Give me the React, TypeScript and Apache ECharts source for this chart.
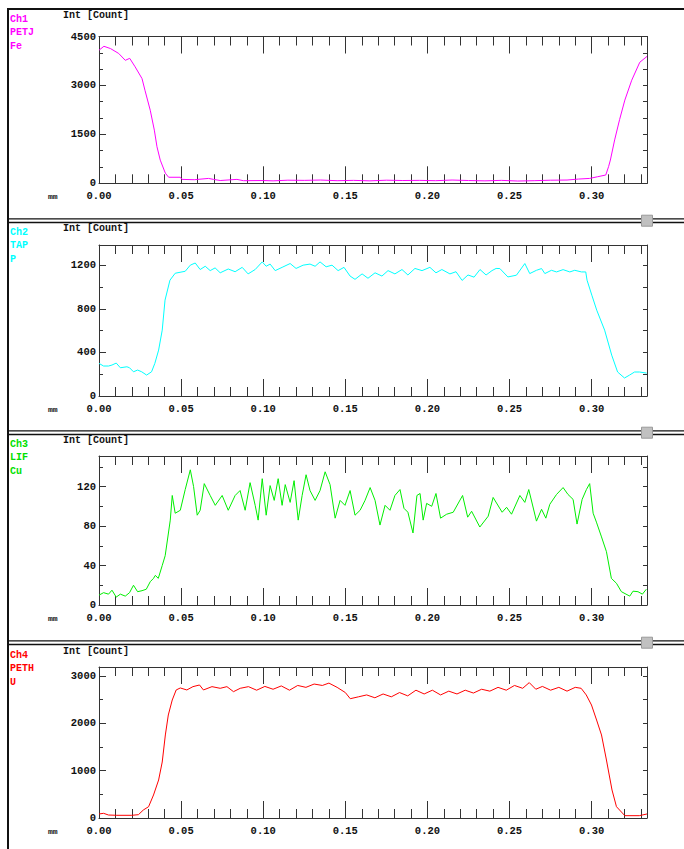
import React, { useEffect, useRef } from "react";
import * as echarts from "echarts";

// ---- data (x in mm, intensity in counts) ----
const X_MAX = 0.3337;
const X_MAJOR_TICKS = 0.05;
const X_MINOR_TICKS = 0.01;

const feData: [number, number][] = [
  [0, 4080], [0.003, 4200], [0.007, 4130], [0.012, 3980], [0.016, 3770], [0.0187, 3830],
  [0.022, 3570], [0.0262, 3210], [0.028, 2850], [0.0312, 2240], [0.0337, 1630], [0.0353, 1120],
  [0.0373, 710], [0.0404, 310], [0.0424, 185], [0.0495, 185], [0.0505, 120], [0.058, 110],
  [0.0667, 150], [0.0697, 120], [0.0738, 85], [0.084, 120], [0.088, 80], [0.1, 85], [0.106, 75],
  [0.115, 95], [0.125, 90], [0.135, 100], [0.145, 80], [0.155, 90], [0.165, 75], [0.175, 95],
  [0.185, 85], [0.195, 90], [0.205, 80], [0.215, 100], [0.225, 85], [0.235, 75], [0.245, 90],
  [0.255, 70], [0.265, 80], [0.275, 95], [0.285, 100], [0.292, 130], [0.2988, 150], [0.3035, 200],
  [0.3086, 254], [0.3103, 510], [0.3114, 713], [0.314, 1330], [0.317, 1950], [0.3202, 2550],
  [0.3244, 3160], [0.3293, 3710], [0.3337, 3890],
];

const pData: [number, number][] = [
  [0, 299], [0.0028, 275], [0.0058, 275], [0.0079, 284], [0.0105, 302], [0.013, 259], [0.017, 268],
  [0.0186, 259], [0.021, 222], [0.0235, 238], [0.026, 222], [0.029, 192], [0.032, 222], [0.034, 299],
  [0.0363, 421], [0.0385, 604], [0.0402, 879], [0.0432, 1062], [0.0464, 1126], [0.0525, 1144],
  [0.0556, 1200], [0.0586, 1220], [0.0616, 1160], [0.0647, 1190], [0.0677, 1150], [0.0707, 1175],
  [0.0738, 1130], [0.0787, 1165], [0.0829, 1140], [0.0872, 1180], [0.0908, 1120], [0.0951, 1160],
  [0.0994, 1230], [0.1018, 1190], [0.1042, 1210], [0.1073, 1150], [0.1115, 1180], [0.1164, 1215],
  [0.12, 1170], [0.1243, 1200], [0.1285, 1210], [0.1316, 1190], [0.1346, 1230], [0.1383, 1185],
  [0.1419, 1200], [0.1456, 1150], [0.1492, 1180], [0.1529, 1100], [0.1559, 1070], [0.1602, 1120],
  [0.1638, 1080], [0.1681, 1130], [0.1723, 1100], [0.176, 1150], [0.1802, 1120], [0.1845, 1160],
  [0.1881, 1110], [0.1924, 1170], [0.1967, 1150], [0.2015, 1180], [0.2052, 1130], [0.2088, 1160],
  [0.2137, 1120], [0.2174, 1140], [0.2211, 1060], [0.2247, 1110], [0.2284, 1090], [0.232, 1160],
  [0.2357, 1110], [0.2393, 1150], [0.2418, 1170], [0.2441, 1169], [0.249, 1092], [0.2542, 1108],
  [0.2593, 1215], [0.2623, 1123], [0.2664, 1153], [0.2695, 1169], [0.2715, 1123], [0.2755, 1153],
  [0.2786, 1138], [0.2826, 1159], [0.2867, 1138], [0.2897, 1153], [0.2938, 1138], [0.2964, 1138],
  [0.2972, 1062], [0.3001, 925], [0.3031, 787], [0.3079, 604], [0.3122, 375], [0.3158, 220],
  [0.32, 165], [0.3231, 192], [0.3261, 220], [0.3291, 220], [0.3335, 210],
];

const cuData: [number, number][] = [
  [0, 10], [0.0028, 12.5], [0.0058, 11], [0.0079, 15], [0.0105, 8], [0.013, 11], [0.016, 9],
  [0.0186, 12.5], [0.021, 20], [0.0235, 13.5], [0.0262, 14.5], [0.0288, 16], [0.0312, 23.6],
  [0.0332, 27], [0.0343, 30], [0.0361, 27], [0.0385, 40], [0.0403, 50], [0.0434, 86], [0.0446, 111],
  [0.0464, 93], [0.0495, 96], [0.0525, 117], [0.0556, 137], [0.0576, 120], [0.0598, 91],
  [0.0616, 96], [0.0641, 123], [0.0677, 111], [0.0708, 101], [0.075, 111], [0.0787, 96],
  [0.0829, 111], [0.0859, 116], [0.089, 96], [0.092, 124], [0.0951, 101], [0.0969, 86],
  [0.0994, 128], [0.1018, 91], [0.1042, 121], [0.1067, 106], [0.1091, 128], [0.1115, 101],
  [0.1134, 122], [0.1164, 104], [0.1188, 126], [0.1213, 86], [0.1237, 111], [0.1261, 132],
  [0.1285, 116], [0.1316, 106], [0.1346, 116], [0.1377, 135], [0.1407, 122], [0.1438, 88],
  [0.1468, 106], [0.1498, 101], [0.1529, 116], [0.1559, 91], [0.159, 96], [0.162, 106],
  [0.1651, 119], [0.1681, 106], [0.1711, 81], [0.1742, 101], [0.1772, 96], [0.1802, 111],
  [0.1833, 117], [0.1857, 98], [0.1881, 94], [0.1912, 73], [0.1936, 111], [0.1955, 113],
  [0.1974, 86], [0.1995, 103], [0.2026, 100], [0.2052, 113], [0.208, 88], [0.2117, 92],
  [0.2157, 94], [0.2214, 111], [0.2245, 89], [0.2269, 95], [0.2319, 79], [0.237, 90], [0.24, 109],
  [0.2455, 94], [0.2482, 99], [0.2512, 92], [0.2563, 111], [0.2593, 104], [0.2617, 117],
  [0.2664, 85], [0.2695, 97], [0.2721, 88], [0.2745, 102], [0.2786, 112], [0.2826, 119],
  [0.2856, 112], [0.2887, 107], [0.2911, 82], [0.2942, 107], [0.2968, 117], [0.2988, 123],
  [0.3009, 93], [0.3029, 84], [0.306, 69], [0.309, 54], [0.312, 27], [0.3151, 22], [0.3181, 13.5],
  [0.3232, 9], [0.3252, 14], [0.3282, 13.5], [0.3309, 11], [0.3333, 16],
];

const uData: [number, number][] = [
  [0, 85], [0.0028, 99], [0.0058, 63], [0.0109, 57], [0.02, 57], [0.024, 70], [0.027, 169],
  [0.0302, 239], [0.0332, 486], [0.0363, 803], [0.0385, 1183], [0.0404, 1754], [0.0422, 2176],
  [0.0446, 2493], [0.047, 2705], [0.0495, 2747], [0.0535, 2705], [0.0572, 2775], [0.0612, 2810],
  [0.0636, 2705], [0.0688, 2775], [0.0738, 2740], [0.0779, 2775], [0.0819, 2669], [0.086, 2740],
  [0.091, 2775], [0.096, 2700], [0.101, 2780], [0.106, 2720], [0.111, 2790], [0.116, 2700],
  [0.121, 2800], [0.126, 2760], [0.131, 2830], [0.136, 2800], [0.14, 2850], [0.145, 2760],
  [0.15, 2650], [0.153, 2520], [0.158, 2560], [0.163, 2600], [0.168, 2540], [0.173, 2620],
  [0.178, 2560], [0.183, 2650], [0.188, 2580], [0.193, 2700], [0.198, 2620], [0.203, 2700],
  [0.208, 2600], [0.213, 2680], [0.218, 2620], [0.223, 2700], [0.228, 2640], [0.233, 2720],
  [0.238, 2680], [0.243, 2760], [0.248, 2700], [0.253, 2800], [0.258, 2740], [0.262, 2860],
  [0.266, 2720], [0.27, 2780], [0.275, 2700], [0.28, 2760], [0.285, 2680], [0.29, 2760],
  [0.2936, 2740], [0.2967, 2600], [0.2999, 2387], [0.303, 2070], [0.306, 1754], [0.309, 1225],
  [0.3124, 591], [0.3151, 239], [0.3202, 49], [0.329, 49], [0.3337, 85],
];

const channelNames = ["Ch1", "Ch2", "Ch3", "Ch4"];
const crystalNames = ["PETJ", "TAP", "LIF", "PETH"];
const elementNames = ["Fe", "P", "Cu", "U"];
const yMaxValues = [4500, 1385, 151, 3190];
const yLabelSteps = [1500, 400, 40, 1000];
const yMinorSteps = [500, 200, 20, 500];
const seriesData = [feData, pData, cuData, uData];

// ---- layout / styles ----
const W = 684;
const H = 849;
const PLOT_LEFT = 99;
const PLOT_WIDTH = 548;
const panelLayout = [
  { top: 36.5, height: 146.8, intY: 16 },
  { top: 245, height: 151, intY: 229 },
  { top: 456, height: 149, intY: 441 },
  { top: 667, height: 151, intY: 652 },
];
const lineColors = ["#ff00ff", "#00ffff", "#00ee00", "#ff0000"];
const textColors = ["#ff00ff", "#00ffff", "#00e000", "#ff0000"];
const separatorYs = [220.7, 432.7, 642.7];

const FONT = "'Liberation Mono', 'DejaVu Sans Mono', monospace";
const AXIS_COLOR = "#333";

function buildOption() {
  const grid: any[] = [];
  const xAxis: any[] = [];
  const yAxis: any[] = [];
  const series: any[] = [];
  const graphic: any[] = [];

  panelLayout.forEach((p, i) => {
    grid.push({
      left: PLOT_LEFT,
      top: p.top,
      width: PLOT_WIDTH,
      height: p.height,
      containLabel: false,
      outerBoundsMode: "none",
    });
    const xBase = {
      type: "value",
      gridIndex: i,
      min: 0,
      max: X_MAX,
      splitLine: { show: false },
      axisLine: { show: true, onZero: false, lineStyle: { color: AXIS_COLOR, width: 1 } },
    };
    // bottom major
    xAxis.push({
      ...xBase,
      position: "bottom",
      interval: X_MAJOR_TICKS,
      axisTick: { show: true, inside: true, length: 17, lineStyle: { color: AXIS_COLOR } },
      axisLabel: {
        show: true,
        margin: 7,
        showMaxLabel: false,
        color: "#111",
        fontFamily: FONT,
        fontWeight: "bold",
        fontSize: 10.5,
        formatter: (v: number) => v.toFixed(2),
      },
    });
    // bottom minor
    xAxis.push({
      ...xBase,
      position: "bottom",
      interval: X_MINOR_TICKS,
      axisLine: { show: false, onZero: false },
      axisTick: { show: true, inside: true, length: 9, lineStyle: { color: AXIS_COLOR } },
      axisLabel: { show: false },
    });
    // top major
    xAxis.push({
      ...xBase,
      position: "top",
      interval: X_MAJOR_TICKS,
      axisTick: { show: true, inside: true, length: 17, lineStyle: { color: AXIS_COLOR } },
      axisLabel: { show: false },
    });
    // top minor
    xAxis.push({
      ...xBase,
      position: "top",
      interval: X_MINOR_TICKS,
      axisLine: { show: false, onZero: false },
      axisTick: { show: true, inside: true, length: 9, lineStyle: { color: AXIS_COLOR } },
      axisLabel: { show: false },
    });

    const yBase = {
      type: "value",
      gridIndex: i,
      min: 0,
      max: yMaxValues[i],
      splitLine: { show: false },
    };
    // left major with labels
    yAxis.push({
      ...yBase,
      position: "left",
      interval: yLabelSteps[i],
      axisLine: { show: true, onZero: false, lineStyle: { color: AXIS_COLOR, width: 1 } },
      axisTick: { show: true, inside: true, length: 7, lineStyle: { color: AXIS_COLOR } },
      axisLabel: {
        show: true,
        margin: 3,
        showMaxLabel: yMaxValues[i] % yLabelSteps[i] === 0,
        color: "#111",
        fontFamily: FONT,
        fontWeight: "bold",
        fontSize: 10.5,
        formatter: (v: number) => String(Math.round(v)),
      },
    });
    // left minor
    yAxis.push({
      ...yBase,
      position: "left",
      interval: yMinorSteps[i],
      axisLine: { show: false, onZero: false },
      axisTick: { show: true, inside: true, length: 4, lineStyle: { color: AXIS_COLOR } },
      axisLabel: { show: false },
    });
    // right minor
    yAxis.push({
      ...yBase,
      position: "right",
      interval: yMinorSteps[i],
      axisLine: { show: true, onZero: false, lineStyle: { color: AXIS_COLOR, width: 1 } },
      axisTick: { show: true, inside: true, length: 4, lineStyle: { color: AXIS_COLOR } },
      axisLabel: { show: false },
    });

    series.push({
      type: "line",
      name: elementNames[i],
      xAxisIndex: i * 4,
      yAxisIndex: i * 3,
      data: seriesData[i],
      showSymbol: false,
      symbol: "none",
      clip: true,
      lineStyle: { color: lineColors[i], width: 1 },
      itemStyle: { color: lineColors[i] },
    });

    // texts
    graphic.push({
      type: "text",
      left: 63,
      top: p.intY - 6,
      style: {
        text: "Int [Count]",
        font: `bold 10px ${FONT}`,
        fill: "#111",
      },
    });
    [channelNames[i], crystalNames[i], elementNames[i]].forEach((t, k) => {
      graphic.push({
        type: "text",
        left: 10,
        top: p.intY - 2 + k * 13.5,
        style: {
          text: t,
          font: `bold 10px ${FONT}`,
          fill: textColors[i],
        },
      });
    });
    graphic.push({
      type: "text",
      left: 48,
      top: p.top + p.height + 9,
      style: {
        text: "mm",
        font: `bold 8px ${FONT}`,
        fill: "#111",
      },
    });
  });

  // frame lines
  graphic.push({
    type: "line",
    shape: { x1: 8, y1: 8, x2: 8, y2: H },
    style: { stroke: "#111", lineWidth: 2 },
  });
  graphic.push({
    type: "line",
    shape: { x1: 7, y1: 9, x2: W, y2: 9 },
    style: { stroke: "#111", lineWidth: 2 },
  });
  separatorYs.forEach((sy) => {
    graphic.push({
      type: "line",
      shape: { x1: 7, y1: sy - 1.8, x2: W, y2: sy - 1.8 },
      style: { stroke: "#111", lineWidth: 1.4 },
    });
    graphic.push({
      type: "line",
      shape: { x1: 7, y1: sy + 1.8, x2: W, y2: sy + 1.8 },
      style: { stroke: "#111", lineWidth: 1.4 },
    });
    graphic.push({
      type: "rect",
      shape: { x: 641.5, y: sy - 5.5, width: 11, height: 11 },
      style: { fill: "#c0c0c0", stroke: "#9a9a9a", lineWidth: 1 },
    });
  });

  return {
    animation: false,
    backgroundColor: "#ffffff",
    grid,
    xAxis,
    yAxis,
    series,
    graphic,
  };
}

export default function App() {
  const ref = useRef<HTMLDivElement>(null);
  useEffect(() => {
    document.body.style.margin = "0";
    if (!ref.current) return;
    const chart = echarts.init(ref.current, undefined, { renderer: "svg", width: W, height: H });
    chart.setOption(buildOption() as any);
    return () => {
      chart.dispose();
    };
  }, []);
  return <div ref={ref} style={{ width: W, height: H }} />;
}
